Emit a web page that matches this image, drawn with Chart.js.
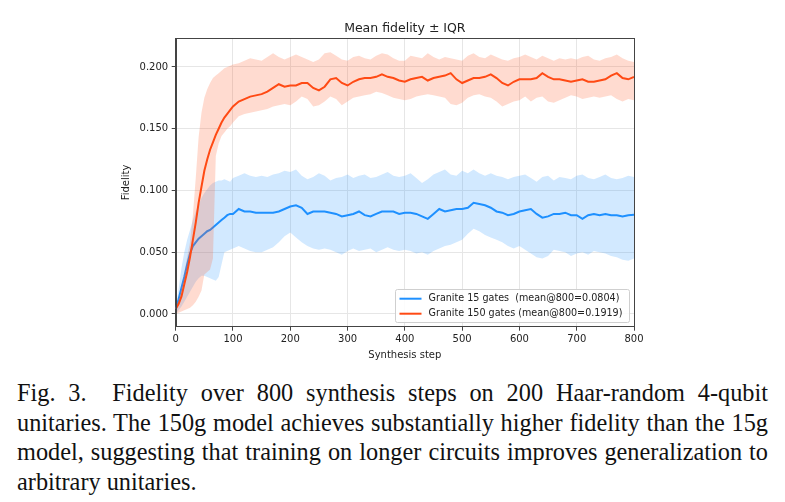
<!DOCTYPE html>
<html>
<head>
<meta charset="utf-8">
<script src="https://cdn.jsdelivr.net/npm/chart.js@4.4.0/dist/chart.umd.min.js"></script>
<style>
  html, body { margin: 0; padding: 0; background: #fff; }
  #wrap { position: relative; width: 785px; height: 502px; overflow: hidden; }
  #fidelity-chart { position: absolute; left: 0; top: 0; }
  #caption {
    position: absolute; left: 17px; top: 378px; width: 751px;
    font-family: "Liberation Serif", "Times New Roman", serif;
    font-size: 24.3px; line-height: 29.5px; color: #111;
  }
  #caption .ln { text-align: justify; text-align-last: justify; white-space: nowrap; }
  #caption .ln.last { text-align: left; text-align-last: left; }
</style>
</head>
<body>
<div id="wrap">
  <canvas id="fidelity-chart" width="785" height="370"></canvas>
  <div id="caption">
    <div class="ln">Fig. 3.&nbsp; Fidelity over 800 synthesis steps on 200 Haar-random 4-qubit</div>
    <div class="ln">unitaries. The 150g model achieves substantially higher fidelity than the 15g</div>
    <div class="ln">model, suggesting that training on longer circuits improves generalization to</div>
    <div class="ln last">arbitrary unitaries.</div>
  </div>
</div>
<script>
'use strict';

// synthesis steps (denser at the start where the curves rise)
var steps = [0,5,10,15,20,25,30,35,40,45,50,55,60,65,70,75,80,85,90,95,100,
    110,120,130,140,150,160,170,180,190,200,
    210,220,230,240,250,260,270,280,290,300,
    310,320,330,340,350,360,370,380,390,400,
    410,420,430,440,450,460,470,480,490,500,
    510,520,530,540,550,560,570,580,590,600,
    610,620,630,640,650,660,670,680,690,700,
    710,720,730,740,750,760,770,780,790,800];

// Granite 15 gates
var blueMean = [0.004,0.012,0.021,0.030,0.040,0.049,0.055,0.058,0.061,0.063,0.065,0.067,0.068,0.070,0.072,0.074,0.076,0.078,0.080,0.081,0.081,
    0.085,0.083,0.083,0.082,0.082,0.082,0.082,0.083,0.085,0.087,
    0.088,0.086,0.081,0.083,0.083,0.083,0.082,0.081,0.079,0.080,
    0.081,0.083,0.080,0.079,0.081,0.083,0.083,0.083,0.081,0.082,
    0.082,0.081,0.079,0.077,0.081,0.085,0.083,0.084,0.085,0.085,
    0.086,0.090,0.089,0.088,0.086,0.083,0.082,0.080,0.081,0.083,
    0.084,0.085,0.081,0.078,0.079,0.081,0.081,0.082,0.080,0.080,
    0.077,0.080,0.081,0.080,0.081,0.080,0.080,0.079,0.080,0.0804];
var blueQ3 = [0.004,0.020,0.037,0.050,0.060,0.068,0.076,0.083,0.088,0.094,0.098,0.101,0.104,0.106,0.107,0.108,0.108,0.109,0.108,0.107,0.110,
    0.112,0.114,0.112,0.111,0.112,0.111,0.113,0.114,0.116,0.115,
    0.117,0.112,0.109,0.111,0.114,0.112,0.108,0.110,0.111,0.113,
    0.110,0.112,0.113,0.110,0.111,0.113,0.115,0.112,0.111,0.112,
    0.114,0.110,0.106,0.109,0.113,0.115,0.117,0.113,0.112,0.116,
    0.114,0.117,0.114,0.112,0.114,0.112,0.111,0.109,0.111,0.112,
    0.113,0.110,0.107,0.111,0.112,0.108,0.111,0.110,0.109,0.112,
    0.113,0.110,0.109,0.111,0.113,0.110,0.109,0.110,0.112,0.111];
var blueQ1 = [0.000,0.003,0.006,0.010,0.014,0.018,0.022,0.026,0.029,0.031,0.031,0.030,0.029,0.028,0.027,0.030,0.040,0.050,0.051,0.052,0.053,
    0.055,0.053,0.051,0.050,0.050,0.052,0.054,0.058,0.063,0.066,
    0.062,0.058,0.055,0.053,0.052,0.053,0.052,0.050,0.048,0.051,
    0.053,0.051,0.052,0.053,0.050,0.052,0.054,0.052,0.051,0.052,
    0.051,0.049,0.050,0.048,0.051,0.053,0.055,0.056,0.058,0.060,
    0.065,0.069,0.067,0.064,0.062,0.060,0.058,0.055,0.053,0.055,
    0.052,0.049,0.046,0.045,0.047,0.052,0.051,0.050,0.047,0.049,
    0.050,0.048,0.051,0.050,0.049,0.047,0.046,0.044,0.043,0.045];

// Granite 150 gates
var orangeMean = [0.004,0.008,0.014,0.024,0.034,0.046,0.060,0.074,0.090,0.103,0.116,0.125,0.133,0.139,0.145,0.150,0.155,0.159,0.162,0.165,0.168,
    0.172,0.174,0.176,0.177,0.178,0.180,0.183,0.186,0.184,0.185,
    0.185,0.187,0.187,0.183,0.181,0.184,0.190,0.191,0.187,0.185,
    0.188,0.190,0.191,0.191,0.192,0.194,0.192,0.191,0.189,0.188,
    0.190,0.191,0.192,0.189,0.191,0.192,0.193,0.195,0.190,0.187,
    0.189,0.191,0.191,0.192,0.194,0.191,0.187,0.185,0.188,0.190,
    0.190,0.190,0.191,0.195,0.192,0.190,0.190,0.189,0.188,0.189,
    0.190,0.188,0.188,0.189,0.190,0.193,0.195,0.191,0.190,0.1919];
var orangeQ3 = [0.004,0.012,0.022,0.034,0.046,0.058,0.080,0.110,0.143,0.163,0.175,0.182,0.187,0.191,0.193,0.195,0.197,0.199,0.200,0.201,0.202,
    0.203,0.205,0.207,0.206,0.205,0.208,0.211,0.208,0.206,0.208,
    0.210,0.208,0.206,0.204,0.206,0.211,0.212,0.209,0.206,0.205,
    0.208,0.209,0.207,0.206,0.209,0.211,0.210,0.207,0.205,0.205,
    0.209,0.208,0.207,0.211,0.208,0.206,0.208,0.207,0.206,0.205,
    0.209,0.211,0.208,0.207,0.210,0.208,0.206,0.205,0.207,0.208,
    0.210,0.208,0.206,0.209,0.207,0.205,0.207,0.206,0.207,0.206,
    0.208,0.209,0.206,0.205,0.207,0.208,0.210,0.207,0.205,0.204];
var orangeQ1 = [0.000,0.001,0.002,0.003,0.004,0.005,0.007,0.010,0.014,0.019,0.032,0.034,0.036,0.045,0.128,0.138,0.144,0.147,0.150,0.152,0.155,
    0.160,0.162,0.163,0.164,0.165,0.166,0.168,0.169,0.170,0.169,
    0.172,0.176,0.174,0.168,0.169,0.172,0.176,0.174,0.169,0.172,
    0.175,0.176,0.177,0.178,0.180,0.179,0.177,0.175,0.174,0.173,
    0.174,0.176,0.177,0.178,0.177,0.176,0.175,0.170,0.169,0.171,
    0.175,0.177,0.178,0.176,0.175,0.172,0.168,0.170,0.172,0.173,
    0.176,0.172,0.175,0.176,0.172,0.171,0.173,0.175,0.177,0.176,
    0.174,0.175,0.176,0.175,0.176,0.177,0.174,0.172,0.174,0.173];

var seriesLabels = ['Granite 15 gates  (mean@800=0.0804)', 'Granite 150 gates (mean@800=0.1919)'];
var xTicks = [0,100,200,300,400,500,600,700,800];
var yTicks = [0,0.05,0.10,0.15,0.20];

var BLUE = '#1E90FF';
var ORANGE = '#FF4A14';

var pts = function(arr) {
    return arr.map(function(v, i) { return {x: steps[i], y: v}; });
};

Chart.defaults.font.family = '"DejaVu Sans", sans-serif';
Chart.defaults.color = '#222';

// full matplotlib-like box around the axes
var framePlugin = {
    id: 'frame',
    afterDatasetsDraw: function(chart) {
        var a = chart.chartArea, ctx = chart.ctx;
        ctx.save();
        ctx.strokeStyle = '#444';
        ctx.lineWidth = 1;
        ctx.strokeRect(Math.round(a.left) + 0.5, Math.round(a.top) + 0.5,
            Math.round(a.right - a.left), Math.round(a.bottom - a.top));
        ctx.restore();
    }
};

// legend in the lower right corner of the axes
var cornerLegend = {
    id: 'cornerLegend',
    afterDraw: function(chart) {
        var ctx = chart.ctx;
        var a = chart.chartArea;
        var w = 234, h = 33;
        var x0 = a.right - 5 - w, y0 = a.bottom - 4.5 - h;
        ctx.save();
        ctx.fillStyle = 'rgba(255,255,255,0.85)';
        ctx.strokeStyle = '#cfcfcf';
        ctx.lineWidth = 1;
        ctx.beginPath();
        ctx.roundRect(Math.round(x0) + 0.5, Math.round(y0) + 0.5, w, h, 2);
        ctx.fill();
        ctx.stroke();
        var cols = [BLUE, ORANGE];
        ctx.font = '9.6px "DejaVu Sans"';
        ctx.textBaseline = 'middle';
        for (var i = 0; i < seriesLabels.length; i++) {
            var yy = y0 + 9.5 + i * 15;
            ctx.strokeStyle = cols[i];
            ctx.lineWidth = 2;
            ctx.beginPath();
            ctx.moveTo(x0 + 4.5, yy);
            ctx.lineTo(x0 + 26.5, yy);
            ctx.stroke();
            ctx.fillStyle = '#222';
            ctx.fillText(seriesLabels[i], x0 + 33.5, yy);
        }
        ctx.restore();
    }
};

var ctx = document.getElementById('fidelity-chart').getContext('2d');
var fidelityChart = new Chart(ctx, {
    type: 'line',
    data: {
        datasets: [
            { label: 'q3-15', data: pts(blueQ3), fill: '+1', backgroundColor: 'rgba(30,144,255,0.2)', borderWidth: 0, pointRadius: 0, order: 6 },
            { label: 'q1-15', data: pts(blueQ1), fill: false, borderWidth: 0, pointRadius: 0, order: 5 },
            { label: seriesLabels[0], data: pts(blueMean), fill: false, borderColor: BLUE, borderWidth: 2, pointRadius: 0, order: 4 },
            { label: 'q3-150', data: pts(orangeQ3), fill: '+1', backgroundColor: 'rgba(255,90,40,0.22)', borderWidth: 0, pointRadius: 0, order: 3 },
            { label: 'q1-150', data: pts(orangeQ1), fill: false, borderWidth: 0, pointRadius: 0, order: 2 },
            { label: seriesLabels[1], data: pts(orangeMean), fill: false, borderColor: ORANGE, borderWidth: 2, pointRadius: 0, order: 1 }
        ]
    },
    options: {
        responsive: false,
        animation: false,
        devicePixelRatio: 1,
        layout: { padding: { left: 0, right: 151, top: 0, bottom: 0 } },
        elements: { line: { tension: 0 } },
        plugins: {
            legend: { display: false },
            tooltip: { enabled: false },
            title: {
                display: true,
                text: 'Mean fidelity \u00b1 IQR',
                fullSize: false,
                font: { size: 12.5, weight: 'normal' },
                color: '#222',
                padding: { top: 21.5, bottom: 1.8 }
            }
        },
        scales: {
            x: {
                type: 'linear',
                min: 0,
                max: 800,
                afterBuildTicks: function(axis) {
                    axis.ticks = xTicks.map(function(v) { return {value: v}; });
                },
                afterFit: function(axis) { axis.height = 43.3; },
                ticks: {
                    font: { size: 10 },
                    color: '#222',
                    padding: 2.5,
                    maxRotation: 0,
                    callback: function(v) { return String(v); }
                },
                grid: { color: '#e6e6e6', tickColor: '#444', tickLength: 4 },
                border: { color: '#444' },
                title: {
                    display: true,
                    text: 'Synthesis step',
                    font: { size: 10 },
                    color: '#222',
                    padding: { top: 0, bottom: 9 }
                }
            },
            y: {
                type: 'linear',
                min: -0.0103,
                max: 0.2232,
                afterBuildTicks: function(axis) {
                    axis.ticks = yTicks.map(function(v) { return {value: v}; });
                },
                afterFit: function(axis) { axis.width = 175.7; },
                ticks: {
                    font: { size: 10 },
                    color: '#222',
                    padding: 3.5,
                    callback: function(v) { return Number(v).toFixed(3); }
                },
                grid: { color: '#e6e6e6', tickColor: '#444', tickLength: 4 },
                border: { color: '#444' },
                title: {
                    display: true,
                    text: 'Fidelity',
                    font: { size: 10 },
                    color: '#222',
                    padding: { top: 120.7, bottom: 0 }
                }
            }
        }
    },
    plugins: [framePlugin, cornerLegend]
});
</script>
</body>
</html>
